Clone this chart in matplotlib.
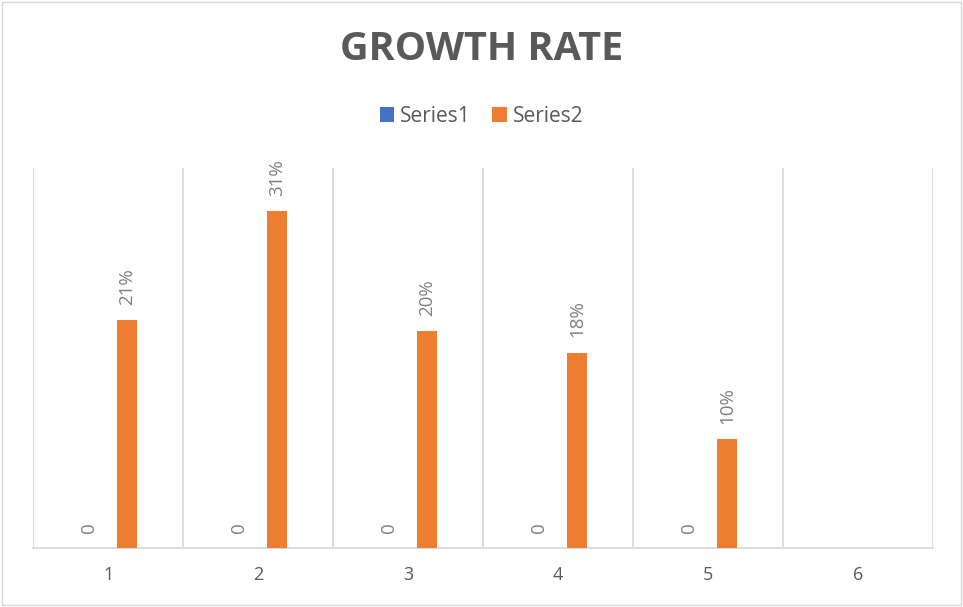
import matplotlib.pyplot as plt
from matplotlib.patches import Rectangle
import numpy as np

# chart data
categories = ['1', '2', '3', '4', '5', '6']
series1 = [0, 0, 0, 0, 0, None]
series2 = [0.21, 0.31, 0.20, 0.18, 0.10, None]

plt.rcParams['font.family'] = ['Open Sans', 'DejaVu Sans']

fig = plt.figure(figsize=(9.63, 6.07), dpi=100)
ax = fig.add_axes([0.0343, 0.0972, 0.9346, 0.626])

x = np.arange(1, len(categories) + 1)
width = 0.133
offset = 0.127

s1 = np.array([np.nan if v is None else v for v in series1], dtype=float)
s2 = np.array([np.nan if v is None else v for v in series2], dtype=float)

ax.bar(x - offset, s1, width, color='#4472C4', label='Series1', zorder=3)
ax.bar(x + offset, s2, width, color='#ED7D31', label='Series2', zorder=3)

# data labels, rotated like the original
pad = 0.014
for xi, v in zip(x, series1):
    if v is not None:
        ax.text(xi - offset, v + pad, f'{v:g}', rotation=90, ha='center', va='bottom',
                fontsize=13.5, color='#7f7f7f')
for xi, v in zip(x, series2):
    if v is not None:
        ax.text(xi + offset, v + pad, f'{v:.0%}', rotation=90, ha='center', va='bottom',
                fontsize=13.5, color='#7f7f7f')

ax.set_xlim(0.5, len(categories) + 0.5)
ax.set_ylim(0, 0.35)
ax.set_xticks(x)
ax.set_xticklabels(categories, fontsize=13, color='#595959')
ax.tick_params(axis='x', length=0, pad=13)
ax.set_yticks([])

# vertical gridlines between categories
for b in np.arange(0.5, len(categories) + 1, 1):
    ax.axvline(b, color='#d9d9d9', linewidth=1.3, zorder=1)

for side in ['top', 'right', 'left']:
    ax.spines[side].set_visible(False)
ax.spines['bottom'].set_color('#d9d9d9')
ax.spines['bottom'].set_linewidth(1.3)

fig.text(0.5, 0.919, 'GROWTH RATE', ha='center', va='center', fontsize=28.5,
         fontweight='bold', color='#595959')

leg = fig.legend(loc='center', bbox_to_anchor=(0.5, 0.808), ncol=2, frameon=False,
                 fontsize=15, handlelength=0.7, handleheight=0.7, handletextpad=0.3,
                 columnspacing=1.0)
for t in leg.get_texts():
    t.set_color('#595959')

# outer chart border
fig.patches.append(Rectangle((0.002, 0.003), 0.996, 0.994, transform=fig.transFigure,
                             fill=False, edgecolor='#d9d9d9', linewidth=1))

fig.savefig('out.png', dpi=100)
